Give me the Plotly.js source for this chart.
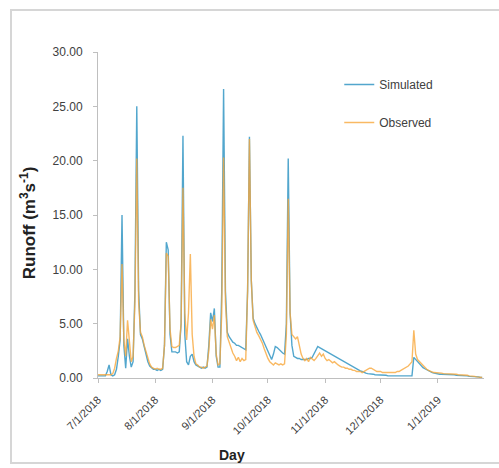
<!DOCTYPE html>
<html>
<head>
<meta charset="utf-8">
<script src="https://cdn.plot.ly/plotly-3.0.1.min.js"></script>
<style>
  html, body { margin: 0; padding: 0; background: #ffffff; }
  #wrap { position: relative; width: 499px; height: 468px; }
  #frame { position: absolute; left: 10px; top: 9px; width: 495px; height: 455px;
           border: 2px solid #d6d6d6; box-sizing: border-box; pointer-events: none; }
  #chart { position: absolute; left: 0; top: 0; width: 499px; height: 468px; }
</style>
</head>
<body>
<div id="wrap">
  <div id="frame"></div>
  <div id="chart"></div>
</div>
<script>
// Daily runoff, starting 7/1/2018
const startDate = '2018-07-01';

const simulated = [
  0.2,0.2,0.2,0.2,0.2,0.6,1.2,0.3,0.2,0.3,
  0.8,2.0,3.5,15.0,3.0,0.9,3.6,2.0,1.0,1.5,
  8.0,25.0,8.0,4.0,3.6,2.9,2.2,1.5,1.1,0.9,
  0.8,0.8,0.7,0.8,0.7,0.8,3.0,12.5,11.8,4.0,
  2.4,2.4,2.4,2.3,2.4,5.0,22.3,4.0,1.5,1.2,
  2.0,2.2,1.5,1.2,1.1,1.0,0.9,1.0,0.9,1.0,
  3.0,6.0,5.2,6.4,2.0,1.0,1.0,8.0,26.6,8.0,
  4.2,3.8,3.5,3.3,3.2,3.0,3.0,2.9,2.8,2.7,
  2.6,8.0,22.2,9.0,5.5,5.0,4.6,4.3,4.0,3.6,
  3.2,2.8,2.5,2.1,1.7,2.2,2.9,2.8,2.6,2.4,
  2.3,2.2,5.0,20.2,6.0,3.0,2.0,1.9,1.8,1.8,
  1.7,1.7,1.7,1.7,1.8,1.8,1.9,2.2,2.6,2.9,
  2.8,2.7,2.6,2.5,2.4,2.3,2.2,2.1,2.0,1.9,
  1.8,1.7,1.6,1.5,1.4,1.35,1.25,1.15,1.05,0.95,
  0.85,0.75,0.65,0.6,0.5,0.45,0.4,0.4,0.35,0.35,
  0.3,0.3,0.3,0.3,0.25,0.25,0.25,0.2,0.2,0.2,
  0.2,0.2,0.2,0.2,0.15,0.15,0.15,0.15,0.15,0.15,
  0.2,1.9,1.7,1.5,1.3,1.1,0.95,0.85,0.75,0.65,
  0.6,0.5,0.45,0.4,0.4,0.35,0.35,0.35,0.3,0.3,
  0.3,0.3,0.3,0.3,0.25,0.25,0.25,0.25,0.2,0.2,
  0.2,0.15,0.15,0.15,0.1,0.1,0.1,0.05,0.05
];

const observed = [
  0.3,0.3,0.3,0.3,0.3,0.3,0.3,0.3,0.4,0.9,
  1.8,2.5,3.8,10.5,3.5,2.0,5.3,3.0,1.5,2.0,
  7.0,20.2,7.0,4.2,3.8,3.0,2.4,1.8,1.3,1.0,
  0.9,0.8,0.9,0.8,0.8,0.9,3.0,11.5,11.2,4.5,
  2.9,2.8,2.8,2.9,3.0,5.0,17.5,6.0,3.5,6.0,
  11.4,4.0,2.0,1.3,1.2,1.0,1.0,0.9,1.0,1.1,
  2.5,5.4,4.5,5.8,2.2,1.2,1.3,6.0,20.3,7.0,
  3.8,3.3,2.7,2.3,2.0,1.6,1.9,1.5,1.8,1.6,
  1.7,8.0,22.0,9.0,5.3,4.7,4.2,3.9,3.6,3.2,
  2.7,2.2,1.8,1.5,1.3,1.2,1.4,1.3,1.2,1.3,
  1.2,1.3,4.0,16.5,6.0,4.0,3.8,3.6,3.8,3.0,
  2.2,1.8,1.6,1.8,1.5,1.9,1.7,1.6,1.8,2.0,
  2.3,2.0,2.2,1.8,1.6,1.7,1.5,1.4,1.5,1.3,
  1.2,1.1,1.0,1.0,0.9,0.9,0.8,0.8,0.7,0.7,
  0.6,0.6,0.6,0.5,0.6,0.7,0.8,0.9,0.9,0.8,
  0.7,0.6,0.6,0.6,0.5,0.5,0.5,0.5,0.5,0.5,
  0.5,0.5,0.6,0.6,0.7,0.8,0.9,1.0,1.1,1.3,
  1.5,4.4,2.2,1.7,1.5,1.3,1.1,0.9,0.8,0.7,
  0.6,0.55,0.5,0.5,0.45,0.45,0.45,0.4,0.4,0.4,
  0.4,0.4,0.35,0.35,0.35,0.3,0.3,0.3,0.3,0.25,
  0.25,0.2,0.2,0.15,0.15,0.1,0.1,0.05,0.05
];

const seriesNames = ['Simulated', 'Observed'];
const yTickVals = [0, 5, 10, 15, 20, 25, 30];

// consecutive daily dates
const days = [];
const t0 = new Date(startDate + 'T00:00:00Z');
for (let i = 0; i < simulated.length; i++) {
  const d = new Date(t0.getTime() + i * 86400000);
  days.push(d.toISOString().slice(0, 10));
}

const FONT = 'Liberation Sans, Arial, sans-serif';

const traces = [
  { x: days, y: simulated, name: seriesNames[0], type: 'scatter', mode: 'lines',
    legendgroup: 'a',
    line: { color: 'rgba(52,150,196,0.85)', width: 1.4 } },
  { x: days, y: observed, name: seriesNames[1], type: 'scatter', mode: 'lines',
    legendgroup: 'b',
    line: { color: 'rgba(247,168,60,0.8)', width: 1.4 } }
];

const layout = {
  width: 499, height: 468,
  margin: { l: 98, r: 15, t: 52, b: 90 },
  paper_bgcolor: 'rgba(0,0,0,0)',
  plot_bgcolor: 'rgba(0,0,0,0)',
  font: { family: FONT, size: 11, color: '#404040' },
  showlegend: true,
  legend: { x: 0.625, y: 0.945, xanchor: 'left', yanchor: 'top',
            bgcolor: 'rgba(0,0,0,0)', tracegroupgap: 19,
            font: { family: FONT, size: 12, color: '#404040' } },
  xaxis: {
    type: 'date',
    range: ['2018-07-01', '2019-01-26'],
    dtick: 'M1', tick0: '2018-07-01',
    tickformat: '%-m/%-d/%Y',
    tickangle: -45,
    ticks: 'outside', ticklen: 4, tickcolor: '#bfbfbf',
    showline: true, linecolor: '#bfbfbf', linewidth: 1,
    showgrid: false, zeroline: false,
    ticklabelstandoff: 6,
    tickfont: { family: FONT, size: 11, color: '#404040' }
  },
  yaxis: {
    range: [0, 30],
    tickvals: yTickVals,
    tickformat: '.2f',
    ticks: 'outside', ticklen: 4, tickcolor: '#bfbfbf',
    showline: true, linecolor: '#bfbfbf', linewidth: 1,
    showgrid: false, zeroline: false,
    ticklabelstandoff: 8,
    tickfont: { family: FONT, size: 12, color: '#404040' }
  },
  annotations: [
    { text: '<b>Day</b>', xref: 'paper', yref: 'paper', x: 0.347, y: -0.236,
      xanchor: 'center', yanchor: 'middle', showarrow: false,
      font: { family: FONT, size: 14, color: '#222222' } },
    { text: '<b>Runoff (m<sup>3</sup>s<sup>-1</sup>)</b>', xref: 'paper', yref: 'paper',
      x: -0.181, y: 0.475, textangle: -90,
      xanchor: 'center', yanchor: 'middle', showarrow: false,
      font: { family: FONT, size: 17, color: '#222222' } }
  ]
};

Plotly.newPlot('chart', traces, layout, { displayModeBar: false, staticPlot: true });
</script>
</body>
</html>
